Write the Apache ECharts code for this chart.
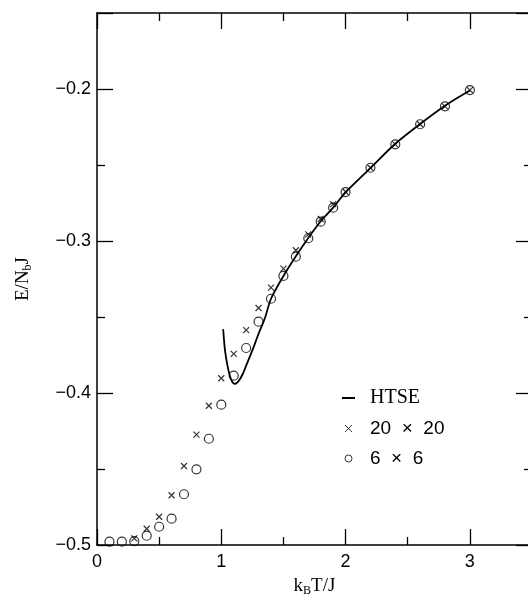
<!DOCTYPE html>
<html>
<head>
<meta charset="utf-8">
<script src="https://cdn.jsdelivr.net/npm/echarts@6/dist/echarts.min.js"></script>
<style>
  html, body { margin: 0; padding: 0; background: #fff; }
  #chart { width: 528px; height: 595px; }
</style>
</head>
<body>
<div id="chart"></div>
<script>
// HTSE curve
const htseT = [1.015, 1.03, 1.05, 1.07, 1.09, 1.11, 1.14, 1.17, 1.2, 1.25, 1.3, 1.35, 1.4, 1.5, 1.6, 1.7, 1.8, 1.9, 2.0, 2.2, 2.4, 2.6, 2.8, 3.0];
const htseE = [-0.358, -0.372, -0.382, -0.389, -0.393, -0.394, -0.392, -0.388, -0.382, -0.372, -0.361, -0.351, -0.338, -0.323, -0.310, -0.298, -0.287, -0.278, -0.268, -0.252, -0.236, -0.223, -0.211, -0.201];
// 20 x 20 lattice
const t20 = [0.3, 0.4, 0.5, 0.6, 0.7, 0.8, 0.9, 1.0, 1.1, 1.2, 1.3, 1.4, 1.5, 1.6, 1.7, 1.8, 1.9, 2.0, 2.2, 2.4, 2.6, 2.8, 3.0];
const e20 = [-0.4956, -0.4893, -0.4814, -0.4673, -0.448, -0.4274, -0.4084, -0.3903, -0.3743, -0.3586, -0.3441, -0.3307, -0.3182, -0.3061, -0.2956, -0.2855, -0.2757, -0.2676, -0.2518, -0.2364, -0.2232, -0.2114, -0.2007];
// 6 x 6 lattice
const t6 = [0.1, 0.2, 0.3, 0.4, 0.5, 0.6, 0.7, 0.8, 0.9, 1.0, 1.1, 1.2, 1.3, 1.4, 1.5, 1.6, 1.7, 1.8, 1.9, 2.0, 2.2, 2.4, 2.6, 2.8, 3.0];
const e6 = [-0.4978, -0.4978, -0.4975, -0.4939, -0.488, -0.4827, -0.4666, -0.4502, -0.4301, -0.4077, -0.3886, -0.3704, -0.3531, -0.338, -0.323, -0.3103, -0.2982, -0.2873, -0.2781, -0.2678, -0.2518, -0.2364, -0.2232, -0.2114, -0.2007];
// axes
const xTicks = [0, 1, 2, 3];
const yTicks = [-0.5, -0.4, -0.3, -0.2];

const zip = (a, b) => a.map((v, i) => [v, b[i]]);
const sans = "Liberation Sans";
const serif = "Liberation Serif";

const crossPath = "path://M0,0L10,10M10,0L0,10";

const chart = echarts.init(document.getElementById("chart"));

function baseAxis(extra) {
  return Object.assign({
    type: "value",
    splitLine: { show: false },
    axisLine: { show: true, onZero: false, lineStyle: { color: "#000", width: 1.5 } },
    axisTick: { show: true, inside: true, length: 16, lineStyle: { color: "#000", width: 1.3 } },
    minorTick: { show: true, splitNumber: 2, length: 8, lineStyle: { color: "#000", width: 1.3 } },
  }, extra);
}

chart.setOption({
  animation: false,
  backgroundColor: "#fff",
  grid: { left: 97, top: 13, width: 435, height: 532, outerBoundsMode: "none", containLabel: false },
  legend: {
    orient: "vertical",
    left: 337,
    top: 383,
    itemWidth: 13,
    itemHeight: 7,
    itemGap: 11,
    itemStyle: { borderWidth: 1 },
    textStyle: {
      fontSize: 19,
      color: "#000",
      padding: [0, 0, 0, 10],
      rich: {
        s: { fontFamily: serif, fontSize: 20, color: "#000" },
        n: { fontFamily: sans, fontSize: 19, color: "#000" },
      },
    },
    formatter: (name) => (name === "HTSE" ? "{s|" + name + "}" : "{n|" + name.replace(" × ", "  ×  ") + "}"),
    data: [
      { name: "HTSE", icon: "path://M0,0h12v1.8h-12z", itemStyle: { color: "#000", borderWidth: 0 } },
      { name: "20 × 20", icon: crossPath },
      { name: "6 × 6", icon: "circle" },
    ],
  },
  xAxis: [
    baseAxis({
      min: 0, max: 3.5, interval: 1, position: "bottom",
      axisLabel: {
        show: true, margin: 8, fontSize: 18, fontFamily: sans, color: "#000",
        showMaxLabel: false,
        formatter: (v) => (xTicks.includes(v) ? String(v) : ""),
      },
      name: "{t|k}{sub|B}{t|T/J}",
      nameLocation: "middle",
      nameGap: 30,
      nameTextStyle: {
        rich: {
          t: { fontFamily: serif, fontSize: 19, color: "#000" },
          sub: { fontFamily: serif, fontSize: 12, color: "#000", padding: [10, 0, 0, 0] },
        },
      },
    }),
    baseAxis({
      min: 0, max: 3.5, interval: 1, position: "top",
      axisLabel: { show: false },
    }),
  ],
  yAxis: [
    baseAxis({
      min: -0.5, max: -0.15, interval: 0.1, position: "left",
      axisLabel: {
        show: true, margin: 6, fontSize: 18, fontFamily: sans, color: "#000",
        showMaxLabel: false,
        formatter: (v) => {
          const r = Math.round(v * 10) / 10;
          return yTicks.includes(r) && Math.abs(v - r) < 1e-9 ? "−" + Math.abs(r).toFixed(1) : "";
        },
      },
      name: "{t|E/N}{sub|b}{t|J}",
      nameLocation: "middle",
      nameRotate: 90,
      nameGap: 63,
      nameTextStyle: {
        rich: {
          t: { fontFamily: serif, fontSize: 19, color: "#000" },
          sub: { fontFamily: serif, fontSize: 12, color: "#000", padding: [10, 0, 0, 0] },
        },
      },
    }),
    baseAxis({
      min: -0.5, max: -0.15, interval: 0.1, position: "right",
      axisLabel: { show: false },
    }),
  ],
  series: [
    {
      name: "HTSE",
      type: "line",
      data: zip(htseT, htseE),
      symbol: "none",
      smooth: 0.3,
      lineStyle: { color: "#000", width: 1.8 },
      itemStyle: { color: "#000" },
    },
    {
      name: "20 × 20",
      type: "scatter",
      data: zip(t20, e20),
      symbol: crossPath,
      symbolSize: 6,
      itemStyle: { color: "transparent", borderColor: "#000", borderWidth: 1.2 },
    },
    {
      name: "6 × 6",
      type: "scatter",
      data: zip(t6, e6),
      symbol: "circle",
      symbolSize: 9,
      itemStyle: { color: "transparent", borderColor: "#000", borderWidth: 1.2 },
    },
  ],
});
</script>
</body>
</html>
